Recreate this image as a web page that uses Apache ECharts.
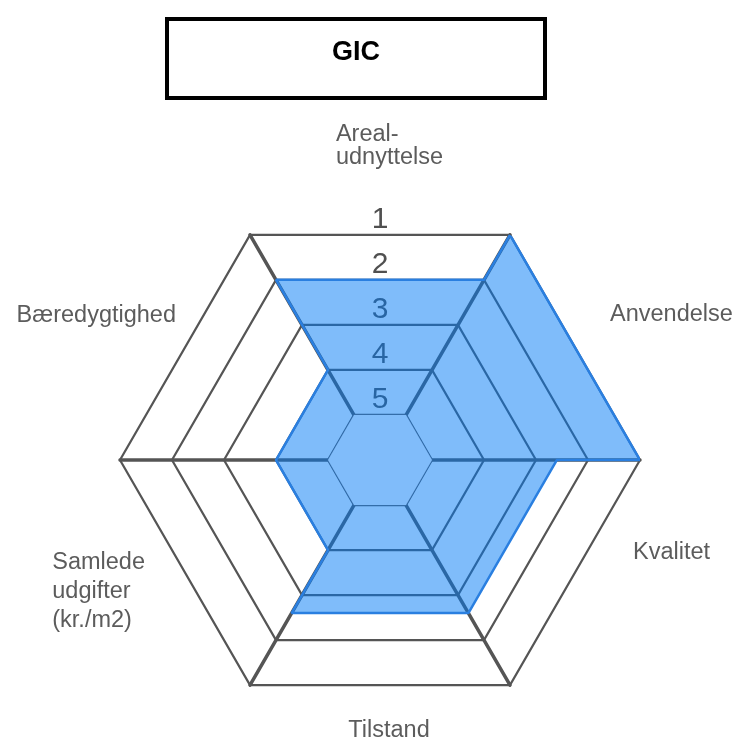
<!DOCTYPE html>
<html>
<head>
<meta charset="utf-8">
<title>GIC</title>
<script src="https://cdn.jsdelivr.net/npm/echarts@6/dist/echarts.min.js"></script>
<style>
  html, body { margin: 0; padding: 0; background: #fff; }
  #chart { width: 739px; height: 743px; }
</style>
</head>
<body>
<div id="chart"></div>
<script>
  // slices of the hexagon, counter-clockwise from the right-hand corner
  const indicators = [
    'Anvendelse',
    'Areal-\nudnyttelse',
    'Bæredygtighed',
    'Samlede\nudgifter\n(kr./m2)',
    'Tilstand',
    'Kvalitet'
  ];
  const scores = [1, 2, 4, 4, 2.6, 2.6];
  // ring labels, outer ring first
  const levels = [1, 2, 3, 4, 5];

  const fontFamily = 'Liberation Sans';
  const center = [380, 460];
  const radius = 260;

  // score 1 sits on the outer ring, score 5 on the inner one
  const toRadius = s => levels.length + 1 - s;
  const step = 360 / indicators.length;

  // every score fills its own slice out to the matching ring
  const outline = [];
  scores.forEach((s, i) => {
    outline.push([toRadius(s), i * step], [toRadius(s), (i + 1) * step]);
  });
  outline.push([toRadius(scores[0]), 360]);

  const innerRing = indicators.map(() => toRadius(levels[levels.length - 1]));

  // name placement: gap from the side, [top, right, bottom, left] padding, line spacing
  const nameGap = [0, 66, 0, 0, 0, 0];
  const namePad = [
    [0, 0, 65, 35],
    [0, 0, 0, 19],
    [0, 9, 63, 0],
    [37, 40, 0, 0],
    [31, 0, 0, 18],
    [0, 0, 40, 58]
  ];
  const nameLine = [28, 23, 28, 29, 28, 28];

  const rich = {};
  const nameTemplates = indicators.map((name, i) => {
    const lines = name.split('\n');
    const [pt, pr, pb, pl] = namePad[i];
    return lines.map((line, li) => {
      const top = li === 0 ? pt : 0;
      const bottom = li === lines.length - 1 ? pb : 0;
      rich[`n${i}l${li}`] = {
        fontFamily,
        fontSize: 23.5,
        color: '#5c5c5c',
        align: 'left',
        padding: [top, pr, bottom, pl],
        lineHeight: nameLine[i] + top + bottom
      };
      return `{n${i}l${li}|${line}}`;
    }).join('\n');
  });

  const chart = echarts.init(document.getElementById('chart'));

  chart.setOption({
    backgroundColor: '#fff',
    animation: false,
    title: {
      text: 'GIC',
      left: 167,
      top: 19,
      padding: [20, 165, 32, 165],
      borderWidth: 4,
      borderColor: '#000',
      textStyle: { fontFamily, fontSize: 27, fontWeight: 'bold', color: '#000' }
    },
    radar: [
      {
        // the grid
        center,
        radius,
        startAngle: 0,
        shape: 'polygon',
        splitNumber: levels.length,
        z: 1,
        indicator: indicators.map(() => ({ name: '', min: 0, max: levels.length })),
        axisName: { show: false },
        axisLabel: { show: false },
        axisTick: { show: false },
        axisLine: { lineStyle: { color: '#555', width: 3.5 } },
        splitLine: { lineStyle: { color: '#555', width: 2.2 } },
        splitArea: { show: false }
      },
      {
        // names sit on the middle of each side
        center,
        radius: radius * Math.cos(Math.PI / 6),
        startAngle: step / 2,
        shape: 'polygon',
        splitNumber: levels.length,
        z: 1,
        nameGap: 0,
        indicator: indicators.map((name, i) => ({
          name,
          min: 0,
          max: levels.length,
          nameGap: nameGap[i],
          nameMoveOverlap: false,
          axisLabel: { show: i === 1 }
        })),
        axisName: {
          formatter: name => nameTemplates[indicators.indexOf(name)],
          rich
        },
        axisLabel: {
          show: false,
          margin: 0,
          align: 'center',
          verticalAlign: 'bottom',
          fontFamily,
          fontSize: 30,
          color: '#505050',
          formatter: v => (v === 0 ? '' : String(levels[levels.length - v]))
        },
        axisTick: { show: false },
        axisLine: { show: false },
        splitLine: { show: false },
        splitArea: { show: false }
      }
    ],
    polar: { center, radius },
    angleAxis: { type: 'value', min: 0, max: 360, startAngle: 0, clockwise: false, show: false },
    radiusAxis: { type: 'value', min: 0, max: levels.length, show: false },
    series: [
      {
        name: 'GIC',
        type: 'line',
        coordinateSystem: 'polar',
        z: 2,
        silent: true,
        clip: false,
        symbol: 'none',
        data: outline,
        lineStyle: { color: '#2a7fe0', width: 2.5 },
        areaStyle: { color: 'rgba(0, 122, 245, 0.5)', opacity: 1 }
      },
      {
        // plain centre, no spokes inside the last ring
        type: 'radar',
        radarIndex: 0,
        z: 3,
        silent: true,
        symbol: 'none',
        data: [{ value: innerRing }],
        lineStyle: { color: '#3d72ad', width: 1 },
        areaStyle: { color: '#80bcfa', opacity: 1 }
      }
    ]
  });
</script>
</body>
</html>
